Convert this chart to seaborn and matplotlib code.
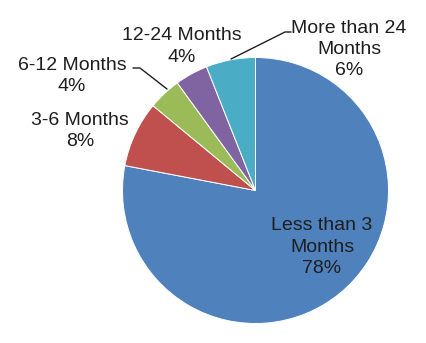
import matplotlib
matplotlib.use("Agg")
import matplotlib.pyplot as plt
import seaborn as sns

categories = ["Less than 3\nMonths", "3-6 Months", "6-12 Months", "12-24 Months", "More than 24\nMonths"]
values = [78, 8, 4, 4, 6]
colors = ["#4F81BD", "#C0504D", "#9BBB59", "#8064A2", "#4BACC6"]

sns.set_theme(style="white")
plt.rcParams['font.family'] = ['Liberation Sans', 'DejaVu Sans']

W, H = 426, 343
CX, CY, R = 255.5, 190.5, 133.0

def px(x, y):
    return ((x - CX) / R, (CY - y) / R)

fig = plt.figure(figsize=(W / 100, H / 100), dpi=100)
ax = fig.add_axes([0, 0, 1, 1])
ax.pie(values, colors=colors, startangle=90, counterclock=False, radius=1.0,
       wedgeprops=dict(edgecolor="white", linewidth=0.7))
ax.set_xlim(px(0, 0)[0], px(W, 0)[0])
ax.set_ylim(px(0, H)[1], px(0, 0)[1])
ax.set_aspect("equal")
ax.axis("off")

label_pos = [(322, 247), (80, 131), (72, 76), (182, 46.5), (349, 49.5)]
tc = "#1e1e1e"
for cat, v, (x, y) in zip(categories, values, label_pos):
    ax.text(*px(x, y), f"{cat}\n{v}%", ha="center", va="center",
            multialignment="center", fontsize=14, color=tc, linespacing=1.32)

# leader lines
for pts in ([(133, 68), (140, 68), (167, 89)], [(231, 59), (285, 32), (291, 32)]):
    xs, ys = zip(*[px(a, b) for a, b in pts])
    ax.plot(xs, ys, color="#1e1e1e", linewidth=1.0)

fig.savefig("out.png", dpi=100, facecolor="white")
